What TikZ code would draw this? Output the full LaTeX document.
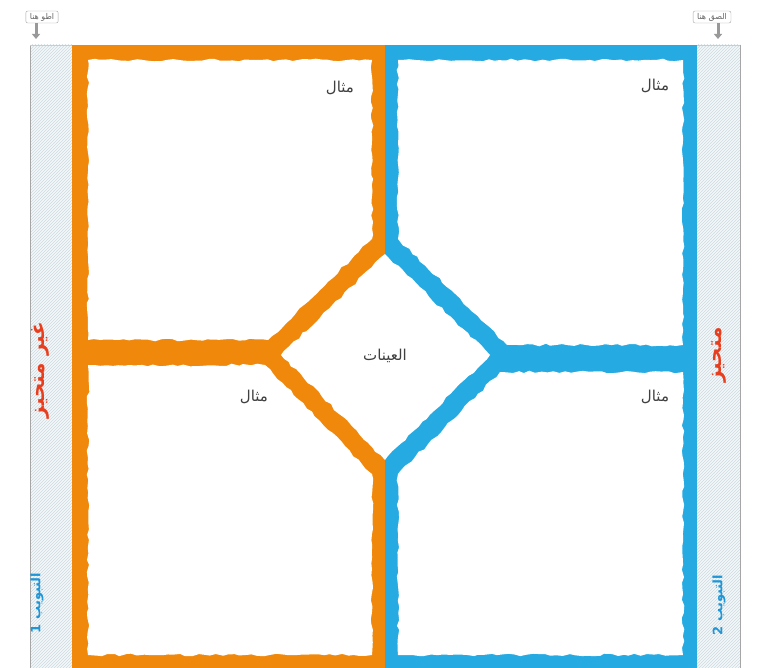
\documentclass[tikz,border=0pt]{standalone}
\usepackage{fontspec}
\setmainfont{DejaVu Sans}
\newfontfamily\arabicfont[Script=Arabic]{DejaVu Sans}
\TeXXeTstate=1
\usetikzlibrary{decorations.pathmorphing,patterns,arrows.meta}
\definecolor{orangeband}{RGB}{240,136,12}
\definecolor{blueband}{RGB}{38,170,226}
\definecolor{redtxt}{RGB}{232,62,30}
\definecolor{tabblue}{RGB}{30,150,215}
\definecolor{hatch}{RGB}{205,218,224}
\definecolor{striptint}{RGB}{244,248,250}
\tikzset{
  panel/.style={fill=white,decorate,decoration={random steps,segment length=6pt,amplitude=1.3pt}},
  lbl/.style={font=\arabicfont\fontsize{15}{17}\selectfont,text=black!75},
  side/.style={font=\arabicfont\bfseries\fontsize{20}{22}\selectfont,text=redtxt,rotate=90},
  tab/.style={font=\arabicfont\bfseries\fontsize{13}{15}\selectfont,text=tabblue,rotate=90},
  tag/.style={draw=black!35,fill=white,rounded corners=2pt,inner xsep=4pt,inner ysep=2pt,font=\arabicfont\fontsize{8}{9}\selectfont,text=black!60},
  tagarrow/.style={-{Triangle[length=5pt,width=8pt]},line width=3pt,draw=black!40}
}
\begin{document}
\begin{tikzpicture}[x=1pt,y=-1pt]
\useasboundingbox (0,0) rectangle (765,668);
% strips
\fill[striptint] (30,45) rectangle (72,668);
\fill[striptint] (697,45) rectangle (740,668);
\fill[pattern=north east lines,pattern color=hatch] (30,45) rectangle (72,668);
\fill[pattern=north east lines,pattern color=hatch] (697,45) rectangle (740,668);
\draw[black!35,line width=0.8pt] (30,45) -- (30,668);
\draw[black!35,line width=0.8pt] (740,45) -- (740,668);
\draw[black!20,line width=0.6pt] (30,45) -- (72,45);
\draw[black!20,line width=0.6pt] (697,45) -- (740,45);
% colour bands
\fill[orangeband] (72,45) rectangle (385,668);
\fill[blueband] (385,45) rectangle (697,668);
% panels
\fill[panel] (88,60) -- (372,60) -- (372,239) -- (268,340) -- (88,340) -- cycle;
\fill[panel] (398,60) -- (683,60) -- (683,345) -- (507,345) -- (398,239) -- cycle;
\fill[panel] (88,365) -- (265,365) -- (372,474) -- (372,655) -- (88,655) -- cycle;
\fill[panel] (500,372) -- (683,372) -- (683,655) -- (398,655) -- (398,474) -- cycle;
% diamond
\fill[panel] (385,254) -- (490,355) -- (385,460) -- (281,355) -- cycle;
% texts
\node[lbl] (ex1) at (340,88) {\beginR مثال\endR};
\node[lbl] (ex2) at (655,86) {\beginR مثال\endR};
\node[lbl] (ex3) at (254,397) {\beginR مثال\endR};
\node[lbl] (ex4) at (655,397) {\beginR مثال\endR};
\node[lbl] (samples) at (385,356) {\beginR العينات\endR};
\node[side] (unbiased) at (40,370) {\beginR غير متحيز\endR};
\node[side] (biased) at (719,355) {\beginR متحيز\endR};
\node[tab] (tab1) at (37,603) {\beginR التبويب 1\endR};
\node[tab] (tab2) at (719,605) {\beginR التبويب 2\endR};
% top tags
\node[tag] (tagL) at (42,17) {\beginR اطو هنا\endR};
\node[tag] (tagR) at (712,17) {\beginR الصق هنا\endR};
\coordinate (tagLend) at (36,39);
\coordinate (tagRend) at (718,39);
\draw[tagarrow] (tagL.south -| tagLend) -- (tagLend);
\draw[tagarrow] (tagR.south -| tagRend) -- (tagRend);
\end{tikzpicture}
\end{document}
